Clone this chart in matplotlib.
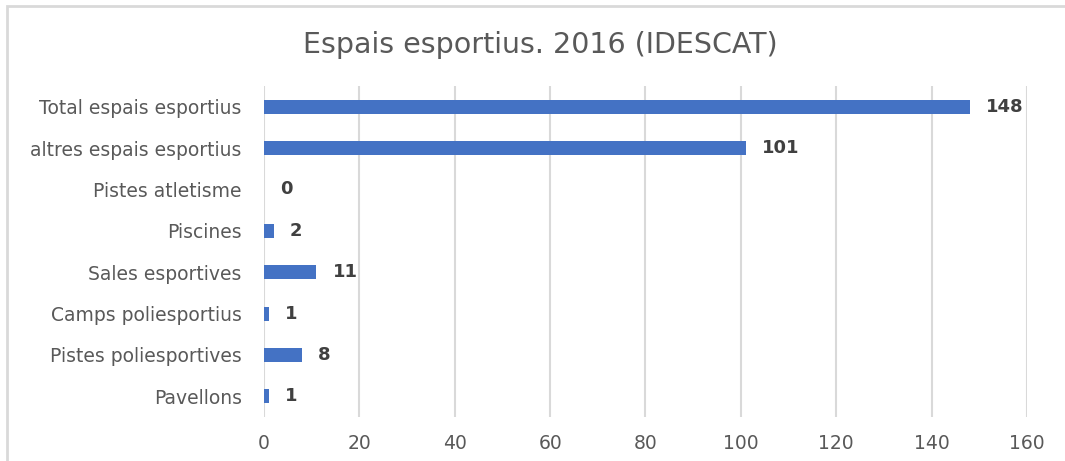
import matplotlib.pyplot as plt
from matplotlib.patches import Rectangle

# Data (bottom to top as drawn)
categories = ['Pavellons', 'Pistes poliesportives', 'Camps poliesportius',
              'Sales esportives', 'Piscines', 'Pistes atletisme',
              'altres espais esportius', 'Total espais esportius']
values = [1, 8, 1, 11, 2, 0, 101, 148]
x_ticks = [0, 20, 40, 60, 80, 100, 120, 140, 160]

plt.rcParams['font.family'] = ['DejaVu Sans']

fig = plt.figure(figsize=(10.65, 4.61), dpi=100)
ax = fig.add_axes([0.2479, 0.0954, 0.7164, 0.718])

# outer chart border (right and bottom edges fall outside the picture)
fig.patches.append(Rectangle((6.5 / 1065, -0.1), 1.2, 1.1 - 6.5 / 461,
                             transform=fig.transFigure, fill=False,
                             edgecolor='#D9D9D9', linewidth=2))

pos = range(len(categories))
ax.barh(pos, values, height=0.34, color='#4472C4', zorder=3)

for p, v in zip(pos, values):
    ax.text(v + 3.4, p, str(v), va='center', ha='left', fontsize=13,
            fontweight='bold', color='#404040')

ax.set_xlim(0, 160)
ax.set_ylim(-0.5, len(categories) - 0.5)
ax.set_xticks(x_ticks)
ax.set_yticks(list(pos))
ax.set_yticklabels(categories)
ax.tick_params(axis='both', length=0, labelsize=13.5, labelcolor='#595959')
ax.tick_params(axis='y', pad=16)
ax.tick_params(axis='x', pad=12)
ax.grid(axis='x', color='#D9D9D9', linewidth=1.5, zorder=0)
for s in ax.spines.values():
    s.set_visible(False)

fig.text(0.507, 0.903, 'Espais esportius. 2016 (IDESCAT)', ha='center', va='center',
         fontsize=20.5, color='#595959')

fig.savefig('out.png', dpi=100)
